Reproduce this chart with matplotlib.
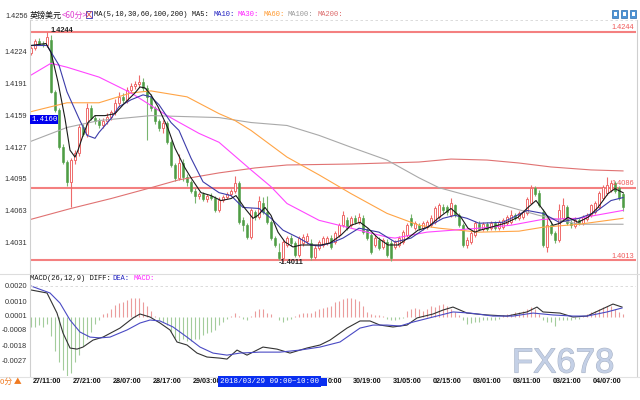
import matplotlib
matplotlib.use("Agg")
import matplotlib.pyplot as plt
from matplotlib.patches import Rectangle
from matplotlib.lines import Line2D
import matplotlib.transforms as mtransforms
import matplotlib.patheffects as pe

plt.rcParams['font.family'] = ['Liberation Sans', 'Noto Sans CJK SC', 'DejaVu Sans']

# GBP/USD 60-minute candles, 27/07:00 .. 04/11:00
opens = [1.4222, 1.4227, 1.4235, 1.4232, 1.4230, 1.4236, 1.4183, 1.4165, 1.4127, 1.4112,
         1.4092, 1.4114, 1.4121, 1.4147, 1.4140, 1.4167, 1.4157, 1.4154, 1.4149, 1.4154,
         1.4158, 1.4163, 1.4172, 1.4178, 1.4175, 1.4185, 1.4189, 1.4191, 1.4193, 1.4187,
         1.4178, 1.4167, 1.4154, 1.4146, 1.4152, 1.4132, 1.4109, 1.4096, 1.4111, 1.4097,
         1.4092, 1.4083, 1.4078, 1.4080, 1.4075, 1.4078, 1.4076, 1.4063, 1.4074, 1.4077,
         1.4080, 1.4083, 1.4091, 1.4053, 1.4048, 1.4036, 1.4061, 1.4056, 1.4071, 1.4061,
         1.4051, 1.4035, 1.4021, 1.4015, 1.4028, 1.4035, 1.4030, 1.4018, 1.4030, 1.4032,
         1.4030, 1.4016, 1.4025, 1.4028, 1.4030, 1.4035, 1.4031, 1.4038, 1.4048, 1.4053,
         1.4048, 1.4055, 1.4051, 1.4055, 1.4043, 1.4038, 1.4028, 1.4033, 1.4026, 1.4031,
         1.4030, 1.4026, 1.4028, 1.4031, 1.4038, 1.4055, 1.4045, 1.4048, 1.4045, 1.4046,
         1.4048, 1.4051, 1.4056, 1.4066, 1.4066, 1.4058, 1.4068, 1.4058, 1.4048, 1.4028,
         1.4031, 1.4038, 1.4049, 1.4044, 1.4049, 1.4045, 1.4050, 1.4045, 1.4046, 1.4050,
         1.4051, 1.4058, 1.4055, 1.4056, 1.4060, 1.4071, 1.4086, 1.4081, 1.4061, 1.4026,
         1.4048, 1.4040, 1.4033, 1.4055, 1.4066, 1.4050, 1.4047, 1.4053, 1.4050, 1.4054,
         1.4058, 1.4061, 1.4066, 1.4076, 1.4081, 1.4084, 1.4091, 1.4086, 1.4080]
highs = [1.4229, 1.4237, 1.4238, 1.4235, 1.4244, 1.4241, 1.4185, 1.4167, 1.4130, 1.4114,
         1.4116, 1.4124, 1.4150, 1.4150, 1.4172, 1.4170, 1.4160, 1.4157, 1.4157, 1.4162,
         1.4165, 1.4176, 1.4183, 1.4182, 1.4188, 1.4192, 1.4194, 1.4200, 1.4197, 1.4190,
         1.4181, 1.4169, 1.4156, 1.4155, 1.4154, 1.4134, 1.4111, 1.4120, 1.4115, 1.4100,
         1.4094, 1.4086, 1.4082, 1.4082, 1.4080, 1.4081, 1.4078, 1.4077, 1.4079, 1.4082,
         1.4085, 1.4098, 1.4093, 1.4056, 1.4050, 1.4065, 1.4063, 1.4078, 1.4077, 1.4078,
         1.4053, 1.4037, 1.4030, 1.4033, 1.4037, 1.4038, 1.4032, 1.4037, 1.4039, 1.4040,
         1.4034, 1.4028, 1.4033, 1.4037, 1.4037, 1.4038, 1.4042, 1.4050, 1.4062, 1.4056,
         1.4057, 1.4058, 1.4060, 1.4058, 1.4045, 1.4040, 1.4038, 1.4036, 1.4035, 1.4034,
         1.4033, 1.4033, 1.4037, 1.4043, 1.4050, 1.4059, 1.4052, 1.4050, 1.4052, 1.4053,
         1.4058, 1.4067, 1.4071, 1.4069, 1.4068, 1.4076, 1.4070, 1.4060, 1.4050, 1.4036,
         1.4042, 1.4052, 1.4052, 1.4051, 1.4051, 1.4052, 1.4052, 1.4053, 1.4055, 1.4058,
         1.4063, 1.4060, 1.4062, 1.4063, 1.4077, 1.4089, 1.4088, 1.4084, 1.4064, 1.4055,
         1.4052, 1.4042, 1.4070, 1.4076, 1.4068, 1.4053, 1.4056, 1.4055, 1.4058, 1.4060,
         1.4070, 1.4073, 1.4083, 1.4089, 1.4097, 1.4094, 1.4093, 1.4088, 1.4082]
lows = [1.4220, 1.4225, 1.4231, 1.4228, 1.4228, 1.4182, 1.4163, 1.4125, 1.4110, 1.4088,
        1.4066, 1.4110, 1.4118, 1.4138, 1.4137, 1.4155, 1.4150, 1.4146, 1.4146, 1.4151,
        1.4155, 1.4160, 1.4169, 1.4172, 1.4172, 1.4182, 1.4186, 1.4188, 1.4184, 1.4134,
        1.4164, 1.4151, 1.4143, 1.4141, 1.4130, 1.4107, 1.4093, 1.4094, 1.4093, 1.4088,
        1.4081, 1.4071, 1.4075, 1.4073, 1.4072, 1.4074, 1.4061, 1.4061, 1.4072, 1.4075,
        1.4078, 1.4081, 1.4049, 1.4042, 1.4034, 1.4034, 1.4053, 1.4054, 1.4059, 1.4049,
        1.4033, 1.4026, 1.4013, 1.4011, 1.4026, 1.4027, 1.4016, 1.4016, 1.4027, 1.4029,
        1.4013, 1.4014, 1.4023, 1.4026, 1.4028, 1.4024, 1.4029, 1.4036, 1.4046, 1.4043,
        1.4046, 1.4049, 1.4049, 1.4039, 1.4033, 1.4019, 1.4026, 1.4023, 1.4024, 1.4016,
        1.4012, 1.4024, 1.4026, 1.4029, 1.4036, 1.4046, 1.4043, 1.4043, 1.4043, 1.4044,
        1.4046, 1.4049, 1.4054, 1.4060, 1.4058, 1.4056, 1.4056, 1.4046, 1.4026, 1.4025,
        1.4029, 1.4036, 1.4043, 1.4042, 1.4042, 1.4043, 1.4043, 1.4043, 1.4044, 1.4048,
        1.4049, 1.4053, 1.4053, 1.4054, 1.4058, 1.4069, 1.4078, 1.4066, 1.4026, 1.4021,
        1.4038, 1.4030, 1.4031, 1.4053, 1.4048, 1.4045, 1.4045, 1.4048, 1.4048, 1.4052,
        1.4056, 1.4059, 1.4064, 1.4074, 1.4079, 1.4082, 1.4081, 1.4074, 1.4062]
closes = [1.4227, 1.4235, 1.4232, 1.4230, 1.4239, 1.4183, 1.4165, 1.4127, 1.4112, 1.4092,
          1.4114, 1.4121, 1.4147, 1.4140, 1.4167, 1.4157, 1.4154, 1.4149, 1.4154, 1.4158,
          1.4163, 1.4172, 1.4178, 1.4175, 1.4185, 1.4189, 1.4191, 1.4193, 1.4187, 1.4178,
          1.4167, 1.4154, 1.4146, 1.4152, 1.4132, 1.4109, 1.4096, 1.4111, 1.4097, 1.4092,
          1.4083, 1.4078, 1.4080, 1.4075, 1.4078, 1.4076, 1.4063, 1.4074, 1.4077, 1.4080,
          1.4083, 1.4091, 1.4051, 1.4048, 1.4036, 1.4063, 1.4056, 1.4073, 1.4061, 1.4051,
          1.4035, 1.4028, 1.4015, 1.4031, 1.4035, 1.4030, 1.4018, 1.4035, 1.4036, 1.4037,
          1.4016, 1.4025, 1.4031, 1.4035, 1.4035, 1.4026, 1.4040, 1.4048, 1.4058, 1.4045,
          1.4055, 1.4051, 1.4056, 1.4041, 1.4035, 1.4021, 1.4035, 1.4025, 1.4033, 1.4018,
          1.4015, 1.4031, 1.4035, 1.4041, 1.4048, 1.4048, 1.4050, 1.4045, 1.4050, 1.4051,
          1.4055, 1.4065, 1.4068, 1.4063, 1.4061, 1.4071, 1.4058, 1.4048, 1.4028, 1.4033,
          1.4040, 1.4050, 1.4044, 1.4049, 1.4044, 1.4050, 1.4045, 1.4051, 1.4053, 1.4056,
          1.4058, 1.4055, 1.4060, 1.4061, 1.4075, 1.4086, 1.4080, 1.4068, 1.4028, 1.4048,
          1.4040, 1.4033, 1.4063, 1.4068, 1.4050, 1.4048, 1.4053, 1.4050, 1.4056, 1.4058,
          1.4068, 1.4071, 1.4081, 1.4087, 1.4089, 1.4091, 1.4083, 1.4076, 1.4066]

# moving average lines, read at a few candle positions
ma5_x = [0, 3.75, 5, 6.75, 8.5, 9.75, 11, 11.75, 13, 14.25, 16, 18.5, 21, 23.5, 26, 27.25,
         28.5, 30, 31.75, 34.25, 36, 38.5, 40, 42.5, 45, 47.5, 50, 51.25, 53.5, 55.5, 56.75,
         58.5, 60, 61.75, 63.5, 65.5, 67.5, 70, 72.5, 74.75, 77.5, 80, 82.25, 84.25, 86.75,
         89.25, 91.75, 94.25, 96.75, 99.25, 101.75, 105, 107.5, 109.25, 111, 112.25, 115,
         118.5, 121.75, 124.25, 126.25, 128.5, 130.5, 132.25, 134.25, 136.75, 139.25,
         141.75, 144.25, 146, 148]
ma5_y = [1.4230, 1.4232, 1.4223, 1.4193, 1.4156, 1.4124, 1.4117, 1.4124, 1.4139, 1.4152,
         1.4159, 1.4159, 1.4161, 1.4172, 1.4182, 1.4188, 1.4187, 1.4180, 1.4168, 1.4146,
         1.4126, 1.4106, 1.4096, 1.4081, 1.4078, 1.4073, 1.4075, 1.4078, 1.4065, 1.4055,
         1.4058, 1.4066, 1.4058, 1.4041, 1.4031, 1.4026, 1.4028, 1.4028, 1.4028, 1.4030,
         1.4038, 1.4048, 1.4051, 1.4045, 1.4035, 1.4028, 1.4028, 1.4035, 1.4043, 1.4046,
         1.4055, 1.4065, 1.4056, 1.4045, 1.4041, 1.4043, 1.4046, 1.4050, 1.4056, 1.4066,
         1.4073, 1.4061, 1.4048, 1.4050, 1.4056, 1.4051, 1.4056, 1.4066, 1.4080, 1.4085,
         1.4081]
ma10_x = [0, 4, 7, 9, 12, 14, 16, 17, 20, 22, 25, 28, 30, 32, 35, 37, 40, 43, 47, 50, 53,
          57, 60, 63, 67, 70, 72, 75, 78, 82, 87, 91, 95, 99, 103, 106, 109, 112, 118, 124,
          128, 132, 137, 141, 145, 148]
ma10_y = [1.4230, 1.4230, 1.4210, 1.4183, 1.4156, 1.4139, 1.4136, 1.4142, 1.4156, 1.4168,
          1.4175, 1.4180, 1.4178, 1.4170, 1.4152, 1.4144, 1.4116, 1.4092, 1.4081, 1.4078,
          1.4066, 1.4065, 1.4055, 1.4043, 1.4035, 1.4028, 1.4027, 1.4030, 1.4035, 1.4045,
          1.4041, 1.4031, 1.4035, 1.4046, 1.4055, 1.4058, 1.4055, 1.4050, 1.4051, 1.4063,
          1.4060, 1.4051, 1.4055, 1.4061, 1.4073, 1.4076]
ma30_x = [0, 5, 9, 17, 25, 34, 42, 47, 55, 60, 64, 72, 80, 89, 91, 99, 112, 120, 128, 137, 148]
ma30_y = [1.4200, 1.4212, 1.4208, 1.4198, 1.4182, 1.4159, 1.4141, 1.4132, 1.4104, 1.4087,
          1.4070, 1.4053, 1.4045, 1.4036, 1.4035, 1.4041, 1.4045, 1.4048, 1.4054, 1.4055,
          1.4063]
ma60_x = [0, 9, 17, 25, 30, 39, 47, 51, 55, 64, 72, 80, 89, 97, 102, 112, 122, 128, 137, 148]
ma60_y = [1.4163, 1.4172, 1.4172, 1.4182, 1.4184, 1.4178, 1.4161, 1.4154, 1.4144, 1.4117,
          1.4099, 1.4080, 1.4060, 1.4048, 1.4045, 1.4041, 1.4042, 1.4046, 1.4049, 1.4055]
ma100_x = [0, 9, 17, 30, 47, 55, 64, 72, 80, 89, 97, 102, 112, 127, 137, 148]
ma100_y = [1.4133, 1.4147, 1.4154, 1.4159, 1.4157, 1.4152, 1.4149, 1.4139, 1.4127, 1.4114,
           1.4096, 1.4086, 1.4075, 1.4058, 1.4049, 1.4049]
ma200_x = [0, 10, 20, 30, 37, 47, 56, 64, 80, 97, 105, 114, 122, 130, 140, 148]
ma200_y = [1.4054, 1.4065, 1.4075, 1.4086, 1.4094, 1.4101, 1.4106, 1.4109, 1.4110, 1.4112,
           1.4115, 1.4114, 1.4111, 1.4107, 1.4104, 1.4103]

# MACD(26,12,9)
diff_x = [0, 4, 6.5, 8, 9.75, 11.5, 13, 15.5, 18, 22.25, 25.5, 27.25, 29.75, 32.25, 34.75,
          36.5, 39, 41.5, 44, 47.25, 49, 51.5, 54, 58, 61.5, 64.75, 69, 72.25, 74.75, 79,
          82.25, 84.75, 87.25, 90.5, 94, 96.5, 100.5, 103, 105.5, 109, 114, 119, 124, 126.5,
          128, 132.25, 135.5, 139, 142.25, 145.5, 147.75]
diff_y = [0.00173, 0.00154, 0.00027, -0.00099, -0.00194, -0.00201, -0.00188, -0.00144,
          -0.00125, -0.00068, -0.00004, 0.00021, 0.00002, -0.00036, -0.00080, -0.00156,
          -0.00175, -0.00226, -0.00251, -0.00258, -0.00264, -0.00207, -0.00239, -0.00188,
          -0.00201, -0.00226, -0.00194, -0.00175, -0.00144, -0.00068, -0.00023, -0.00023,
          -0.00049, -0.00061, -0.00049, -0.00004, 0.00021, 0.00046, 0.00065, 0.00027,
          0.00015, 0.00008, 0.00034, 0.00065, 0.00034, 0.00027, 0.00002, 0.00008, 0.00046,
          0.00084, 0.00065]
dea_x = [0, 4.75, 7.25, 9.75, 12.25, 14.75, 17.25, 19.75, 24, 27.25, 29.75, 32.25, 35.5, 39,
         42.25, 45.5, 49, 52.25, 57.25, 62.25, 67.25, 72.25, 77.25, 82.25, 85.5, 89, 92.25,
         95.5, 100.5, 105.5, 109.75, 115.5, 120.5, 125.5, 130.5, 135.5, 139, 144, 147.75]
dea_y = [0.00198, 0.00154, 0.00090, -0.00017, -0.00093, -0.00125, -0.00130, -0.00125,
         -0.00080, -0.00036, -0.00017, -0.00023, -0.00061, -0.00125, -0.00188, -0.00226,
         -0.00239, -0.00226, -0.00220, -0.00220, -0.00207, -0.00188, -0.00156, -0.00068,
         -0.00049, -0.00049, -0.00055, -0.00030, 0.00002, 0.00034, 0.00027, 0.00008,
         0.00008, 0.00027, 0.00015, 0.00008, 0.00008, 0.00034, 0.00059]
macd_hist = [-0.0006, -0.0006, -0.0005, -0.0006, -0.0004, -0.0012, -0.0021, -0.0028, -0.0033, -0.0037,
             -0.0035, -0.0028, -0.0024, -0.0018, -0.0014, -0.0009, -0.0004, -0.0002, 0.0002, 0.0003,
             0.0005, 0.0008, 0.0009, 0.0010, 0.0011, 0.0012, 0.0012, 0.0012, 0.0010, 0.0007,
             0.0004, 0.0001, -0.0002, -0.0003, -0.0005, -0.0009, -0.0013, -0.0015, -0.0014, -0.0015,
             -0.0015, -0.0014, -0.0014, -0.0011, -0.0010, -0.0009, -0.0008, -0.0005, -0.0003, -0.0001,
             0.0001, 0.0003, 0.0001, -0.0001, -0.0002, 0.0001, 0.0004, 0.0005, 0.0005, 0.0003,
             0.0002, 0.00003, -0.0002, -0.0003, -0.0002, -0.0001, 0.0001, 0.0002, 0.0003, 0.0003,
             0.0003, 0.0004, 0.0005, 0.00057, 0.00063, 0.00074, 0.00095, 0.00105, 0.00116, 0.0012,
             0.0012, 0.00116, 0.00105, 0.00074, 0.00036, 0.0002, 0.00015, 0.00015, 0.0001, -0.00013,
             -0.00017, -0.00015, -0.0001, -0.00005, 0.00042, 0.00053, 0.00057, 0.00053, 0.00042, 0.00053,
             0.00074, 0.00063, 0.00078, 0.00084, 0.00074, 0.00053, 0.00032, 0.00015, -0.00015, -0.00042,
             -0.00036, -0.00032, -0.00027, -0.0002, -0.0002, -0.0002, -0.00017, -0.0001, 0.00015, 0.0002,
             0.0002, 0.00032, 0.00036, 0.00042, 0.00053, 0.00063, 0.00053, 0.0002, -0.0002, -0.00027,
             -0.00032, -0.00053, -0.0002, -0.00017, -0.00015, -0.00015, -0.0001, -0.0001, 0.0001, 0.0002,
             0.00032, 0.00042, 0.00053, 0.00063, 0.00074, 0.00074, 0.00053, 0.00032, 0.0002]

price_ticks = [1.4224, 1.4191, 1.4159, 1.4127, 1.4095, 1.4063, 1.4031]
macd_ticks = [0.0020, 0.0010, 0.0001, -0.0008, -0.0018, -0.0027]
# labels under the date box (29/13:00, 29/23:00) are hidden in the reference
time_pos = [4, 14, 24, 34, 44, 84, 94, 104, 114, 124, 134, 144]
time_labels = ["27/11:00", "27/21:00", "28/07:00", "28/17:00", "29/03:00", "30/19:00",
               "31/05:00", "02/15:00", "03/01:00", "03/11:00", "03/21:00", "04/07:00"]
levels = [1.4244, 1.4086, 1.4013]

UP = '#ee6b6b'
DOWN = '#4f9d45'
DOWN_WICK = '#79b56f'
MONO = ['Liberation Mono', 'DejaVu Sans Mono']
CJK = ['Noto Sans CJK SC', 'DejaVu Sans']

W, H = 640, 400
fig = plt.figure(figsize=(6.4, 4.0), dpi=100)


def fx(px):
    return px / W


def fy(py):
    return 1 - py / H


# ---- price panel ----
ax = fig.add_axes([fx(30), fy(268), 606 / W, 248 / H])
ax.set_xlim(-0.25, 151.25)
ax.set_ylim(1.40047, 1.42558)
for s in ax.spines.values():
    s.set_visible(False)
ax.set_xticks([])
ax.set_yticks(price_ticks)
ax.set_yticklabels(["%.4f" % t for t in price_ticks])
ax.tick_params(axis='y', length=0, pad=2.2, labelsize=5.3, labelcolor='#333333')
ax.text(-0.004, 1.4256, "1.4256", transform=mtransforms.blended_transform_factory(ax.transAxes, ax.transData),
        ha='right', va='bottom', fontsize=5.3, color='#333333')

for lv in levels:
    ax.axhline(lv, color='#f48080', lw=1.5, zorder=1.5)

idx = list(range(len(closes)))
up = [i for i in idx if closes[i] >= opens[i]]
dn = [i for i in idx if closes[i] < opens[i]]
ax.vlines(up, [lows[i] for i in up], [highs[i] for i in up], color=UP, lw=0.8, zorder=2)
ax.vlines(dn, [lows[i] for i in dn], [highs[i] for i in dn], color=DOWN_WICK, lw=0.8, zorder=2)
ax.bar(up, [max(closes[i] - opens[i], 0.00005) for i in up], bottom=[opens[i] for i in up],
       width=0.62, facecolor='white', edgecolor=UP, linewidth=0.7, zorder=3)
ax.bar(dn, [opens[i] - closes[i] for i in dn], bottom=[closes[i] for i in dn],
       width=0.62, facecolor=DOWN, edgecolor=DOWN, linewidth=0.4, zorder=3)

ax.plot(ma200_x, ma200_y, color='#e07272', lw=0.8, zorder=4)
ax.plot(ma100_x, ma100_y, color='#a9a9a9', lw=0.8, zorder=4)
ax.plot(ma60_x, ma60_y, color='#ffa445', lw=0.8, zorder=4)
ax.plot(ma30_x, ma30_y, color='#ff45ff', lw=0.8, zorder=4)
ax.plot(ma10_x, ma10_y, color='#3c3caa', lw=0.8, zorder=5)
ax.plot(ma5_x, ma5_y, color='#1a1a1a', lw=0.8, zorder=5)

btr = mtransforms.blended_transform_factory(ax.transAxes, ax.transData)
for lv in levels:
    ax.text(0.9967, lv + 0.00003, "%.4f" % lv, transform=btr, ha='right', va='bottom',
            fontsize=5.3, color='#f05a5a', zorder=6)
ax.text(4.9, 1.42447, "1.4244", ha='left', va='center', fontsize=5.3, fontweight='bold',
        color='#222222', zorder=6)
ax.text(61.9, 1.40101, "-1.4011", ha='left', va='center', fontsize=5.3, fontweight='bold',
        color='#222222', zorder=6)

# ---- MACD panel ----
axm = fig.add_axes([fx(30), fy(376), 606 / W, 102 / H])
axm.set_xlim(-0.25, 151.25)
axm.set_ylim(-0.00371, 0.00274)
for s in axm.spines.values():
    s.set_visible(False)
axm.vlines(idx, 0, macd_hist, colors=['#eb9c9c' if v > 0 else '#a3cc9b' for v in macd_hist], lw=0.8)
axm.plot(diff_x, diff_y, color='#333333', lw=0.8)
axm.plot(dea_x, dea_y, color='#4a4ac4', lw=0.8)
axm.axhline(0.0020, color='#d6d6d6', lw=0.6, ls=(0, (3, 3)))
axm.set_yticks(macd_ticks)
axm.set_yticklabels(["%.4f" % t for t in macd_ticks])
axm.set_xticks(time_pos)
axm.set_xticklabels(time_labels)
axm.tick_params(axis='y', length=0, pad=2.2, labelsize=5.3, labelcolor='#333333')
axm.tick_params(axis='x', length=0, pad=1.6, labelsize=5.2, labelcolor='#111111')
for lab in axm.get_xticklabels():
    lab.set_fontweight('bold')

# ---- frame lines ----
gray = '#cfcfcf'
fig.add_artist(Line2D([fx(30), fx(30)], [fy(20), fy(376)], color=gray, lw=0.8))
fig.add_artist(Line2D([fx(636.5), fx(636.5)], [fy(20), fy(376)], color=gray, lw=0.8))
fig.add_artist(Line2D([fx(30), fx(636)], [fy(20), fy(20)], color='#d6d6d6', lw=0.6, ls=(0, (3, 3))))
fig.add_artist(Line2D([0, 1], [fy(274), fy(274)], color='#dddddd', lw=0.8))
fig.add_artist(Line2D([0, 1], [fy(376.5), fy(376.5)], color='#e2e2e2', lw=0.8))

# ---- header ----
ty = fy(15)
fig.text(fx(30), ty, "英镑美元", family=CJK, fontsize=5.8, color='#111111', va='center')
fig.text(fx(62), ty, "<60分>", family=CJK, fontsize=5.8, color='#e040d0', va='center')
fig.add_artist(Rectangle((fx(86), fy(18)), 6 / W, 7 / H, facecolor='white', edgecolor='#4a4ac0', lw=0.7))
fig.add_artist(Line2D([fx(86.5), fx(91.5)], [fy(17.5), fy(11.5)], color='#e05050', lw=0.6))
fig.add_artist(Line2D([fx(86.5), fx(91.5)], [fy(11.5), fy(17.5)], color='#e05050', lw=0.6))
fig.text(fx(94), ty, "MA(5,10,30,60,100,200) MA5:", family=MONO, fontsize=5.1, color='#111111', va='center')
fig.text(fx(213), ty, "MA10:", family=MONO, fontsize=5.1, color='#2020c0', va='center')
fig.text(fx(238), ty, "MA30:", family=MONO, fontsize=5.1, color='#ff20ff', va='center')
fig.text(fx(263), ty, "MA60:", family=MONO, fontsize=5.1, color='#ff9a30', va='center')
fig.text(fx(287), ty, "MA100:", family=MONO, fontsize=5.1, color='#9a9a9a', va='center')
fig.text(fx(317), ty, "MA200:", family=MONO, fontsize=5.1, color='#dd6a6a', va='center')
for x0 in (612, 621, 630):
    fig.add_artist(Rectangle((fx(x0), fy(18)), 6 / W, 8 / H, facecolor='#4d94d6', edgecolor='#2f6fb0', lw=0.5))
    fig.add_artist(Rectangle((fx(x0 + 1.5), fy(16)), 3 / W, 4 / H, facecolor='white', edgecolor='none'))

fig.text(fx(30), fy(279), "MACD(26,12,9) DIFF:", family=MONO, fontsize=5.1, color='#111111', va='center')
fig.text(fx(112), fy(279), "DEA:", family=MONO, fontsize=5.1, color='#2020c0', va='center')
fig.text(fx(133), fy(279), "MACD:", family=MONO, fontsize=5.1, color='#ff20ff', va='center')

# cursor price box and date box
fig.text(fx(31), fy(119.5), "1.4160", family=MONO, fontsize=5.2, color='white', va='center',
         bbox=dict(facecolor='#0000ee', edgecolor='none', pad=0.8))
fig.text(fx(220), fy(381.5), "2018/03/29 09:00~10:00", family=MONO, fontsize=5.4, color='white', va='center',
         bbox=dict(facecolor='#0a2ff0', edgecolor='none', pad=1.2), zorder=10)
fig.add_artist(Rectangle((fx(320.5), fy(386)), 6 / W, 8 / H, facecolor='#0a2ff0', edgecolor='none', zorder=10))
# visible tail of the 30/09:00 label next to the date box
fig.text(fx(327.5), fy(381.5), "0:00", fontsize=5.2, fontweight='bold', color='#111111', va='center')

fig.text(fx(0.5), fy(381.5), "0分 ▲", family=CJK, fontsize=5.6, color='#f07a20', ha='left', va='center')

fig.text(fx(512), fy(363), "FX678", fontsize=25, color='#c4d0e6', ha='left', va='center', zorder=0.5,
         path_effects=[pe.withStroke(linewidth=0.8, foreground='#aab4c6')])

fig.savefig("out.png", dpi=100)
